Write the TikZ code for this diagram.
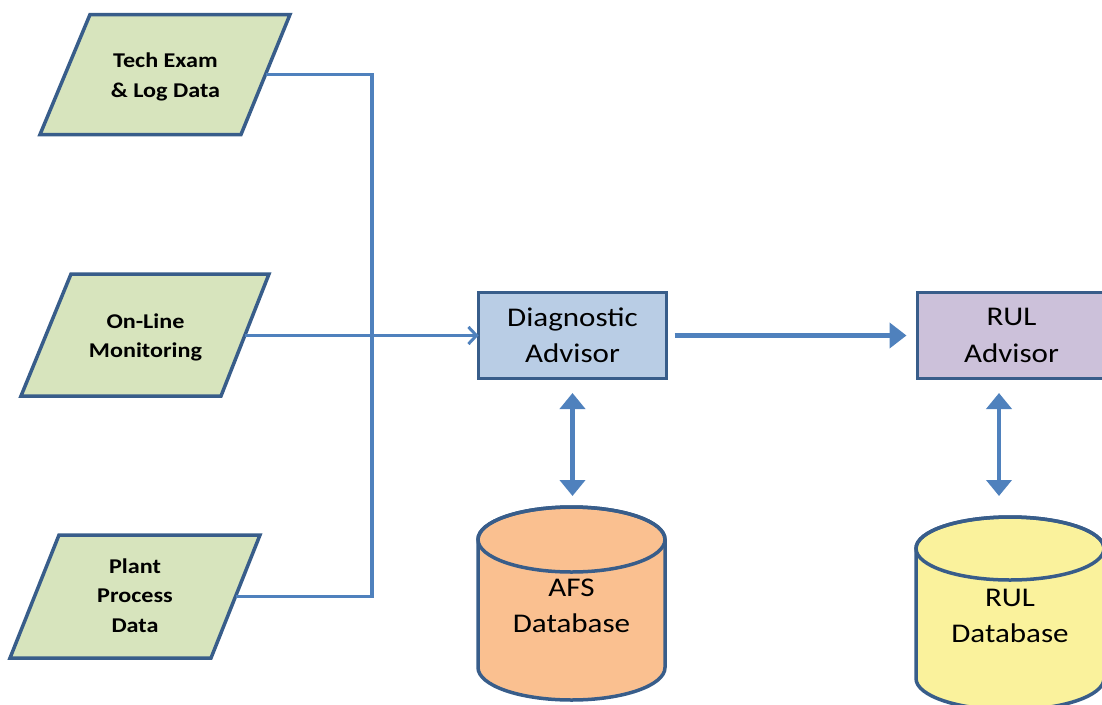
\documentclass[tikz,border=0pt]{standalone}
\usepackage{fontspec}
\setmainfont{Carlito}[FakeStretch=1.15]
\usetikzlibrary{arrows.meta}
\definecolor{edge}{HTML}{385D8A}
\definecolor{wire}{HTML}{4F81BD}
\definecolor{greenfill}{HTML}{D7E4BD}
\definecolor{diagfill}{HTML}{B9CDE5}
\definecolor{rulfill}{HTML}{CCC1DA}
\definecolor{afsfill}{HTML}{FAC090}
\definecolor{dbfill}{HTML}{FAF29C}
\begin{document}
\begin{tikzpicture}[x=1pt,y=-1pt,
  inshape/.style={draw=edge, line width=3.5pt, fill=greenfill, line join=miter},
  intext/.style={align=center, inner sep=0pt, font=\bfseries\fontsize{21}{29.5}\selectfont},
  advisor/.style={rectangle, minimum width=188pt, minimum height=86pt,
    draw=edge, line width=3.5pt, inner sep=0pt, outer sep=0pt,
    align=center, font=\fontsize{27}{36.5}\selectfont},
  dblabel/.style={align=center, inner sep=0pt, font=\fontsize{27}{36}\selectfont},
  dbshape/.style={draw=edge, line width=3.5pt},
  conn/.style={draw=wire, line width=3.5pt},
  feed/.style={conn, -{Straight Barb[length=8pt,width=17pt,line width=3pt]}},
  flow/.style={draw=wire, line width=4.5pt, -{Triangle[length=17pt,width=25pt]}},
  both/.style={draw=wire, line width=4.5pt, {Triangle[length=16pt,width=25pt]}-{Triangle[length=16pt,width=25pt]}}
]
\clip (0,0) rectangle (1102,704);

% input data sources (parallelograms)
\filldraw[inshape] (90,14.5) -- (290,14.5) -- (241,134.5) -- (40,134.5) -- cycle;
\node[intext] (tech) at (165.5,77) {Tech Exam\\\& Log Data};
\coordinate (techout) at (265.5,74.5);

\filldraw[inshape] (71,274) -- (269,274) -- (221,396) -- (21,396) -- cycle;
\node[intext] (online) at (145.5,337.5) {On-Line\\Monitoring};
\coordinate (onlineout) at (245,335.5);

\filldraw[inshape] (59,535) -- (260,535) -- (211,658) -- (10,658) -- cycle;
\node[intext] (plant) at (135,595.5) {Plant\\Process\\Data};
\coordinate (plantout) at (235.5,596.5);

% advisors
\node[advisor, fill=diagfill] (diag)   at (572.5,335.5) {Diagnostic\\Advisor};
\node[advisor, fill=rulfill]  (rulbox) at (1011.5,335.5) {RUL\\Advisor};

% AFS database cylinder
\filldraw[dbshape, fill=afsfill] (478,539.5) -- (478,667.5)
  arc[start angle=180, end angle=0, x radius=93.5, y radius=32.5]
  -- (665,539.5)
  arc[start angle=0, end angle=-180, x radius=93.5, y radius=32.5] -- cycle;
\draw[dbshape] (571.5,539.5) ellipse [x radius=93.5, y radius=32.5];
\node[dblabel] (afs) at (571.5,606) {AFS\\Database};
\coordinate (afstop) at (572.5,507);

% RUL database cylinder
\filldraw[dbshape, fill=dbfill] (916,548.5) -- (916,678.5)
  arc[start angle=180, end angle=0, x radius=94, y radius=31.5]
  -- (1104,548.5)
  arc[start angle=0, end angle=-180, x radius=94, y radius=31.5] -- cycle;
\draw[dbshape] (1010,548.5) ellipse [x radius=94, y radius=31.5];
\node[dblabel] (ruldb) at (1010,616) {RUL\\Database};
\coordinate (ruldbtop) at (999,517);

% data bus feeding the diagnostic advisor
\coordinate (bus) at (372,0);
\draw[conn] (techout) -| (bus |- plantout) -- (plantout);
\draw[feed] (onlineout) -- (diag.west);

% advisor links
\draw[flow, shorten <=8pt, shorten >=11pt] (diag.east) -- (rulbox.west);
\draw[both, shorten <=14.5pt, shorten >=11pt] (diag.south) -- (afstop);
\draw[both, shorten <=14.5pt, shorten >=21pt] (rulbox.south -| ruldbtop) -- (ruldbtop);
\end{tikzpicture}
\end{document}
